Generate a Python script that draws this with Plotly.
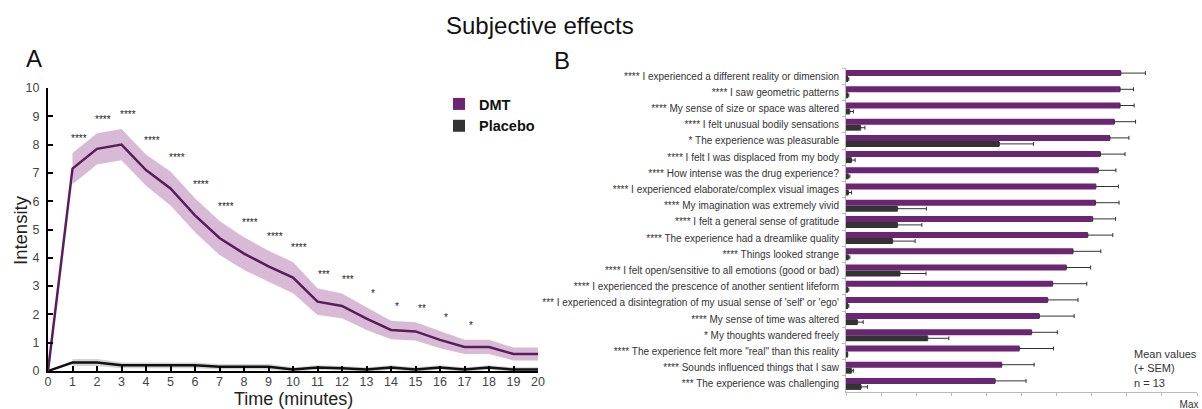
import plotly.graph_objects as go

FONT = "Liberation Sans, Arial, sans-serif"
W, H = 1202, 409

# ---- Panel A: intensity over time ----
minutes = list(range(21))
dmt_mean = [0, 7.15, 7.85, 8.0, 7.1, 6.45, 5.5, 4.7, 4.15, 3.7, 3.3,
            2.45, 2.3, 1.85, 1.45, 1.4, 1.1, 0.85, 0.85, 0.6, 0.6]
dmt_sem = [0, 0.55, 0.55, 0.55, 0.55, 0.6, 0.6, 0.6, 0.58, 0.55, 0.55,
           0.47, 0.44, 0.4, 0.33, 0.32, 0.3, 0.25, 0.25, 0.23, 0.23]
placebo_mean = [0, 0.3, 0.3, 0.2, 0.2, 0.2, 0.2, 0.15, 0.15, 0.15, 0.05,
                0.12, 0.1, 0.05, 0.12, 0.05, 0.12, 0.05, 0.12, 0.05, 0.05]
placebo_sem = [0, 0.12, 0.12, 0.1, 0.1, 0.1, 0.1, 0.1, 0.1, 0.1, 0.08,
               0.08, 0.08, 0.08, 0.08, 0.08, 0.08, 0.08, 0.08, 0.08, 0.08]
significance = ["", "****", "****", "****", "****", "****", "****", "****",
                "****", "****", "****", "***", "***", "*", "*", "**", "*",
                "*", "", "", ""]

# ---- Panel B: questionnaire items ----
items = [
    "**** I experienced a different reality or dimension",
    "**** I saw geometric patterns",
    "**** My sense of size or space was altered",
    "**** I felt unusual bodily sensations",
    "* The experience was pleasurable",
    "**** I felt I was displaced from my body",
    "**** How intense was the drug experience?",
    "**** I experienced elaborate/complex visual images",
    "**** My imagination was extremely vivid",
    "**** I felt a general sense of gratitude",
    "**** The experience had a dreamlike quality",
    "**** Things looked strange",
    "**** I felt open/sensitive to all emotions (good or bad)",
    "**** I experienced the prescence of another sentient lifeform",
    "*** I experienced a disintegration of my usual sense of 'self' or 'ego'",
    "**** My sense of time was altered",
    "* My thoughts wandered freely",
    "**** The experience felt more \"real\" than this reality",
    "**** Sounds influenced things that I saw",
    "*** The experience was challenging",
]
dmt_vals = [78.3, 78.1, 78.1, 76.5, 75.2, 72.5, 71.9, 71.2, 71.1, 70.3,
            68.9, 64.7, 62.8, 58.9, 57.5, 55.1, 52.9, 49.4, 44.4, 42.5]
dmt_err = [7.0, 3.8, 4.0, 6.0, 5.4, 7.0, 5.0, 6.4, 6.7, 6.5,
           7.1, 7.9, 6.9, 9.7, 8.6, 9.9, 7.3, 9.7, 9.2, 8.8]
placebo_vals = [0.5, 0.5, 1.1, 4.2, 43.7, 1.6, 0.7, 0.7, 14.7, 14.7,
                13.3, 0.7, 15.4, 0.5, 0.5, 3.3, 23.3, 0.3, 1.6, 4.3]
placebo_err = [0.3, 0.3, 1.0, 1.2, 9.7, 1.0, 0.4, 0.9, 8.2, 6.9,
               6.4, 0.4, 7.4, 0.3, 0.3, 1.6, 6.0, 0.2, 0.5, 1.8]
x_ticks_b = list(range(0, 101, 10))
x_ticktext_b = [""] * 10 + ["Max"]

DMT_LINE = "#5a1d5c"
DMT_BAND = "rgba(190, 140, 188, 0.6)"
DMT_BAR = "#6b2572"
PLA_LINE = "#111111"
PLA_BAND = "rgba(160, 160, 160, 0.45)"
PLA_BAR = "#333333"


def px_x(p):
    return p / W


def px_y(p):
    return 1 - p / H


fig = go.Figure()

# Placebo band + line
t_band = minutes[1:]
fig.add_trace(go.Scatter(
    x=t_band, y=[m - s for m, s in zip(placebo_mean[1:], placebo_sem[1:])],
    mode="lines", line=dict(width=0), showlegend=False, hoverinfo="skip"))
fig.add_trace(go.Scatter(
    x=t_band, y=[m + s for m, s in zip(placebo_mean[1:], placebo_sem[1:])],
    mode="lines", line=dict(width=0), fill="tonexty", fillcolor=PLA_BAND,
    showlegend=False, hoverinfo="skip"))
fig.add_trace(go.Scatter(
    x=minutes, y=placebo_mean, mode="lines",
    line=dict(color=PLA_LINE, width=2.5), showlegend=False))

# DMT band + line
fig.add_trace(go.Scatter(
    x=t_band, y=[m - s for m, s in zip(dmt_mean[1:], dmt_sem[1:])],
    mode="lines", line=dict(width=0), showlegend=False, hoverinfo="skip"))
fig.add_trace(go.Scatter(
    x=t_band, y=[m + s for m, s in zip(dmt_mean[1:], dmt_sem[1:])],
    mode="lines", line=dict(width=0), fill="tonexty", fillcolor=DMT_BAND,
    showlegend=False, hoverinfo="skip"))
fig.add_trace(go.Scatter(
    x=minutes, y=dmt_mean, mode="lines",
    line=dict(color=DMT_LINE, width=2.5), showlegend=False))

# Panel B bars (also provide the legend entries)
fig.add_trace(go.Bar(
    name="DMT", y=items, x=dmt_vals, orientation="h",
    marker=dict(color=DMT_BAR, line=dict(width=0)),
    error_x=dict(type="data", array=dmt_err, arrayminus=[0] * len(items),
                 symmetric=False, color="#333333", thickness=1, width=2),
    xaxis="x2", yaxis="y2"))
fig.add_trace(go.Bar(
    name="Placebo", y=items, x=placebo_vals, orientation="h",
    marker=dict(color=PLA_BAR, line=dict(width=0)),
    error_x=dict(type="data", array=placebo_err, arrayminus=[0] * len(items),
                 symmetric=False, color="#333333", thickness=1, width=2),
    xaxis="x2", yaxis="y2"))

annotations = []
# significance markers above the DMT curve
for t, m, s, sig in zip(minutes, dmt_mean, dmt_sem, significance):
    if sig:
        annotations.append(dict(
            x=t + 0.25, y=m + s + 0.5, xref="x", yref="y", text=sig,
            xanchor="center", yanchor="middle", showarrow=False,
            font=dict(family=FONT, size=10, color="#222222")))


def label(text, x, y, size, color="#111111", **kw):
    d = dict(text=text, x=px_x(x), y=px_y(y), xref="paper", yref="paper",
             xanchor="center", yanchor="middle", showarrow=False,
             font=dict(family=FONT, size=size, color=color))
    d.update(kw)
    return d


annotations += [
    label("Subjective effects", 540, 26, 24),
    label("A", 34, 59, 24),
    label("B", 562, 61, 24),
    label("Intensity", 20, 230, 18.5, "#222222", textangle=-90),
    label("Time (minutes)", 293, 399, 18, "#222222"),
    label("Mean values<br>(+ SEM)<br>n = 13", 1132, 368, 11, "#333333",
          xanchor="left", align="left"),
]

fig.update_layout(
    width=W, height=H,
    margin=dict(l=0, r=0, t=0, b=0),
    paper_bgcolor="white", plot_bgcolor="white",
    font=dict(family=FONT, color="#333333"),
    barmode="group", bargap=0.26, bargroupgap=0,
    showlegend=True,
    legend=dict(x=px_x(439), y=px_y(88), xanchor="left", yanchor="top",
                traceorder="normal",
                bgcolor="rgba(0,0,0,0)", itemwidth=30, tracegroupgap=0,
                font=dict(family=FONT, size=14.5, color="#111111", weight="bold")),
    annotations=annotations,
    xaxis=dict(domain=[px_x(48), px_x(538)], range=[0, 20], dtick=1,
               tick0=0, showline=True, linecolor="black", linewidth=2,
               ticks="inside", ticklen=5, tickwidth=2, tickcolor="black",
               showgrid=False, zeroline=False, automargin=False,
               ticklabelstandoff=-2,
               tickfont=dict(family=FONT, size=12.5, color="#444444"),
               anchor="y"),
    yaxis=dict(domain=[px_y(371), px_y(88)], range=[0, 10], dtick=1,
               tick0=0, showline=True, linecolor="black", linewidth=2,
               ticks="inside", ticklen=5, tickwidth=2, tickcolor="black",
               showgrid=False, zeroline=False, automargin=False,
               ticklabelstandoff=4,
               tickfont=dict(family=FONT, size=12.5, color="#444444"),
               anchor="x"),
    xaxis2=dict(domain=[px_x(846), px_x(1197)], range=[0, 100],
                tickvals=x_ticks_b, ticktext=x_ticktext_b,
                ticklabelshift=-8, ticklabelstandoff=0,
                showline=True, linecolor="#bbbbbb", linewidth=1,
                ticks="outside", ticklen=3, tickcolor="#bbbbbb",
                showgrid=False, zeroline=False, automargin=False,
                tickfont=dict(family=FONT, size=10, color="#333333"),
                anchor="y2"),
    yaxis2=dict(domain=[px_y(392), px_y(68)], type="category",
                categoryorder="array", categoryarray=items,
                range=[len(items) - 0.5, -0.5],
                tickson="boundaries", ticks="outside", ticklen=3,
                tickcolor="#bbbbbb", showline=True, linecolor="#bbbbbb",
                linewidth=1, showgrid=False, zeroline=False,
                automargin=False, ticklabelstandoff=4,
                tickfont=dict(family=FONT, size=10, color="#333333"),
                anchor="x2"),
)

fig.write_html("out.html")
